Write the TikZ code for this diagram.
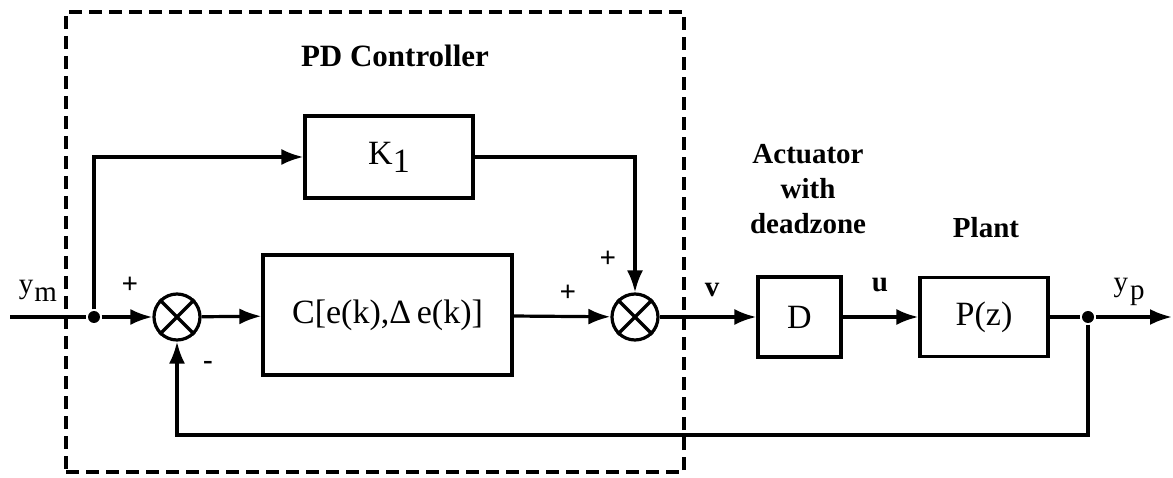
\documentclass[tikz,border=0pt]{standalone}
\usepackage{fontspec}
\setmainfont{Liberation Serif}
\usetikzlibrary{arrows.meta}
\begin{document}
\begin{tikzpicture}[x=1pt,y=-1pt,line width=3.2pt,
  blk/.style={draw, inner sep=0pt, font=\fontsize{34}{40}\selectfont},
  sumnode/.style={circle, draw, minimum size=46pt, inner sep=0pt},
  sig/.style={font=\fontsize{29}{32}\selectfont, inner sep=0pt},
  bsig/.style={font=\fontsize{29}{32}\selectfont\bfseries, inner sep=0pt},
  ttl/.style={font=\fontsize{29}{35}\selectfont\bfseries, align=center, inner sep=0pt},
  arr/.style={-{Latex[length=22pt,width=16pt]}},
  jdot/.style={circle, fill, inner sep=0pt, minimum size=12pt},
  pdframe/.style={draw, dash pattern=on 13pt off 7pt, line width=3.2pt, inner sep=0pt}]
\useasboundingbox (0,0) rectangle (1173,478);
% dashed controller frame
\node[pdframe, minimum width=618pt, minimum height=460pt] (pdbox) at (375,242) {};
\node[ttl, font=\fontsize{31}{35}\selectfont\bfseries] (pdt) at (395,56) {PD Controller};
% blocks
\node[sumnode] (s1) at (177,317) {};
\node[sumnode] (s2) at (635,317) {};
\draw (s1.north west) -- (s1.south east) (s1.north east) -- (s1.south west);
\draw (s2.north west) -- (s2.south east) (s2.north east) -- (s2.south west);
\node[blk, minimum width=168pt, minimum height=82pt] (k1) at (389,157) {K\raisebox{-8pt}{1}};
\node[blk, minimum width=249pt, minimum height=120pt] (c) at (387.5,315) {C[e(k),Δ\,e(k)]};
\node[blk, minimum width=83pt, minimum height=80pt] (d) at (799.5,317) {D};
\node[blk, minimum width=128pt, minimum height=79pt] (p) at (984,317) {P(z)};
% junctions and free ends
\coordinate (in) at (10,317);
\node[jdot] (j1) at (94,317) {};
\node[jdot] (j2) at (1088,317) {};
\coordinate (out) at (1172,317);
\coordinate (fb) at (177,435);
% connectors
\draw (in) -- (j1);
\draw[arr] (j1) -- (s1);
\draw[arr] (j1) |- (k1);
\draw[arr] (k1) -| (s2);
\draw[arr] (s1) -- (c);
\draw[arr] (c) -- (s2);
\draw[arr] (s2) -- (d);
\draw[arr] (d) -- (p);
\draw (p) -- (j2);
\draw[arr] (j2) -- (out);
\draw[arr] (j2) |- (fb) -- (s1);
% titles
\node[ttl] (act) at (808,189) {Actuator\\with\\deadzone};
\node[ttl] (plant) at (986,228) {Plant};
% signal labels
\node[sig] (ym) at (38,291) {y\kern1pt\raisebox{-8pt}{m}};
\node[bsig] (p1) at (130,285) {+};
\node[bsig] (m1) at (208,365) {-};
\node[bsig] (p2) at (568,293) {+};
\node[bsig] (p3) at (608,259) {+};
\node[bsig] (v) at (712,290) {v};
\node[bsig] (u) at (880,285) {u};
\node[sig] (yp) at (1129,292) {y\kern2pt\raisebox{-8pt}{p}};
\end{tikzpicture}
\end{document}
